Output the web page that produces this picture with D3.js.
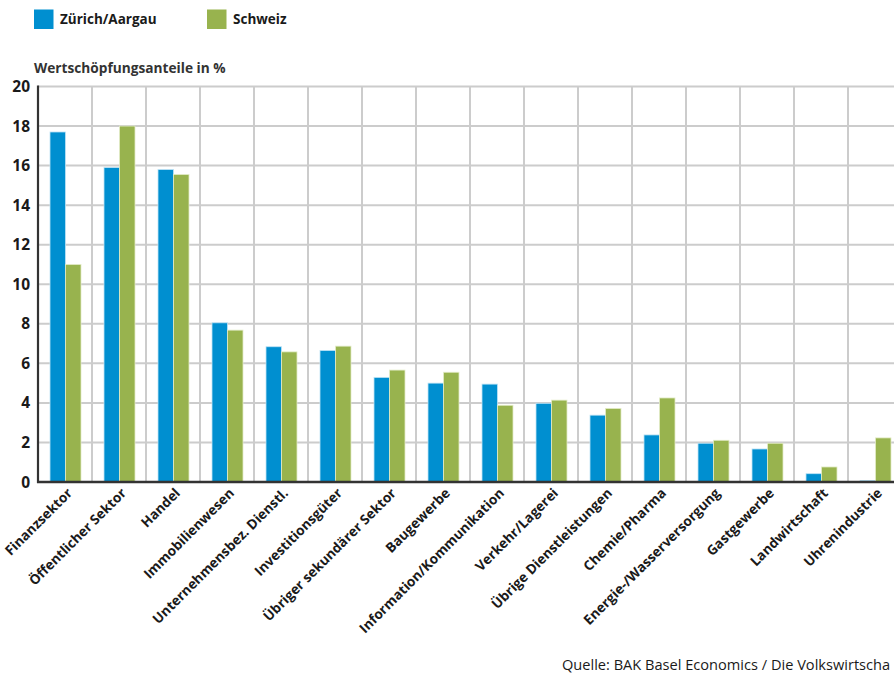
<!DOCTYPE html>
<html><head><meta charset="utf-8">
<script src="https://cdn.jsdelivr.net/npm/d3@7"></script>
<style>body{margin:0;background:#fff;overflow:hidden}svg{display:block}text{font-family:"Open Sans",sans-serif}</style>
</head><body>
<svg id="c" width="894" height="675"></svg>
<script>
const categories = ["Finanzsektor","Öffentlicher Sektor","Handel","Immobilienwesen","Unternehmensbez. Dienstl.","Investitionsgüter","Übriger sekundärer Sektor","Baugewerbe","Information/Kommunikation","Verkehr/Lagerei","Übrige Dienstleistungen","Chemie/Pharma","Energie-/Wasserversorgung","Gastgewerbe","Landwirtschaft","Uhrenindustrie"];
const zuerichAargau = [17.7,15.9,15.8,8.05,6.84,6.65,5.29,5.0,4.95,3.98,3.38,2.38,1.96,1.67,0.42,0.07];
const schweiz = [11.0,18.0,15.55,7.68,6.58,6.87,5.66,5.55,3.88,4.14,3.72,4.25,2.11,1.96,0.76,2.23];
const seriesNames = ["Zürich/Aargau","Schweiz"];
const colors = ["#008fd0","#98b34e"];
const yTicks = [0,2,4,6,8,10,12,14,16,18,20];
const yTitle = "Wertschöpfungsanteile in %";
const source = "Quelle: BAK Basel Economics / Die Volkswirtscha";

const svg = d3.select("#c");
const mLeft = 38, mTop = 86.5, mBottom = 482, bandW = 54;
const x = d3.scaleBand().domain(categories).range([mLeft, mLeft + bandW*categories.length]).paddingInner(0).paddingOuter(0);
const y = d3.scaleLinear().domain([0,20]).range([mBottom, mTop]);
const inner = d3.scaleBand().domain(seriesNames).range([12, 43]).padding(0);

// horizontal gridlines
svg.append("g").selectAll("line").data(yTicks.filter(d=>d>0)).join("line")
  .attr("x1", mLeft).attr("x2", 894).attr("y1", d=>y(d)).attr("y2", d=>y(d))
  .attr("stroke","#cccccc").attr("stroke-width",2);
// vertical gridlines
svg.append("g").selectAll("line").data(categories.slice(1)).join("line")
  .attr("x1", d=>x(d)).attr("x2", d=>x(d)).attr("y1", mTop-0.5).attr("y2", mBottom)
  .attr("stroke","#cccccc").attr("stroke-width",2);

// bars
const data = categories.map((c,i)=>({c, vals:[zuerichAargau[i], schweiz[i]]}));
const g = svg.append("g").selectAll("g").data(data).join("g").attr("transform", d=>`translate(${x(d.c)},0)`);
g.selectAll("rect").data(d=>d.vals.map((v,j)=>({v,j}))).join("rect")
  .attr("x", d=>inner(seriesNames[d.j])).attr("width", inner.bandwidth())
  .attr("y", d=>y(d.v)).attr("height", d=>mBottom - y(d.v))
  .attr("fill", d=>colors[d.j])
  .attr("stroke", d=> d.j===0 ? "#bfe3f5" : "#e3ecc8").attr("stroke-width",0.8);

// axes lines
svg.append("line").attr("x1",mLeft).attr("x2",mLeft).attr("y1",mTop-1).attr("y2",mBottom+1).attr("stroke","#333").attr("stroke-width",2.2);
svg.append("line").attr("x1",mLeft-1).attr("x2",894).attr("y1",mBottom).attr("y2",mBottom).attr("stroke","#333").attr("stroke-width",2.4);

// y tick labels
svg.append("g").selectAll("text").data(yTicks).join("text")
  .attr("x", 30).attr("y", d=>y(d)).attr("dy","0.36em").attr("text-anchor","end")
  .attr("font-size",15.5).attr("font-weight",700).attr("fill","#1a1a1a").text(d=>d);

// x labels
svg.append("g").selectAll("text").data(categories).join("text")
  .attr("transform", d=>`translate(${x(d)+bandW/2+8},${mBottom+12}) rotate(-45)`)
  .attr("text-anchor","end").attr("font-size",13.6).attr("font-weight",700).attr("fill","#1a1a1a").text(d=>d);

// y title
svg.append("text").attr("x",34).attr("y",73).attr("font-size",13.7).attr("font-weight",700).attr("fill","#333").text(yTitle);

// legend
const lx = [34, 207];
seriesNames.forEach((s,i)=>{
  svg.append("rect").attr("x",lx[i]).attr("y",9.5).attr("width",19.5).attr("height",19.5).attr("fill",colors[i]);
  svg.append("text").attr("x",lx[i]+26).attr("y",24).attr("font-size",13.5).attr("font-weight",700).attr("fill","#1a1a1a").text(s);
});

// source
svg.append("text").attr("x",562).attr("y",670).attr("font-size",14.6).attr("fill","#1a1a1a").text(source);
</script>
</body></html>
